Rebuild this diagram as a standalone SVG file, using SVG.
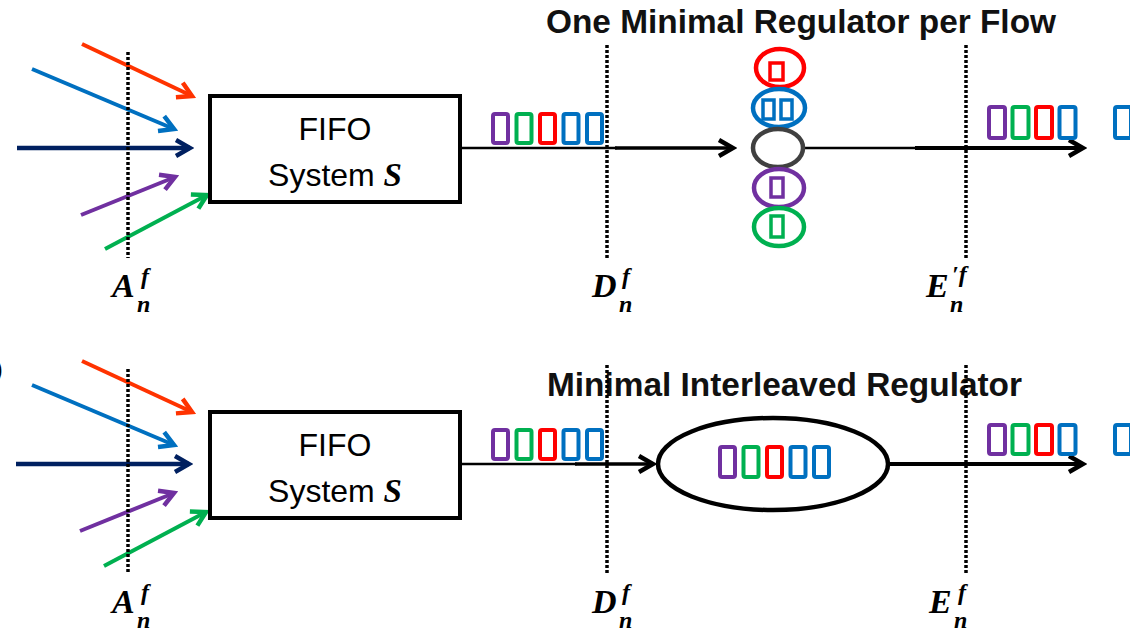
<svg xmlns="http://www.w3.org/2000/svg" width="1130" height="631" viewBox="0 0 1130 631">
<style>
.title{font-family:"Liberation Sans",Arial,sans-serif;font-size:33px;font-weight:bold;fill:#111}
.boxt{font-family:"Liberation Sans",Arial,sans-serif;font-size:32px;fill:#000;text-anchor:middle}
.mi{font-family:"Liberation Serif","Times New Roman",serif;font-style:italic;font-weight:bold;fill:#000}
.big{font-size:34px}
.sm{font-size:24px}
.dot{stroke:#000;stroke-width:3.5;stroke-dasharray:3 2;fill:none}
.box{fill:#fff;stroke:#000;stroke-width:4}
.pk{fill:none;stroke-width:4;rx:2}
.pu{stroke:#7030A0}.gr{stroke:#00B050}.rd{stroke:#FF0000}.bl{stroke:#0070C0}
.sp{fill:none;stroke-width:3.5}
.reg{fill:none;stroke-width:4.5}
.ln{fill:none;stroke-linecap:butt}
</style>
<defs>
<marker id="ah-or" viewBox="-18 -11 22 22" markerWidth="22" markerHeight="22" refX="0" refY="0" orient="auto" markerUnits="userSpaceOnUse"><path d="M-14,-8 L0,0 L-14,8" fill="none" stroke="#FF3300" stroke-width="4.5"/></marker>
<marker id="ah-bl" viewBox="-18 -11 22 22" markerWidth="22" markerHeight="22" refX="0" refY="0" orient="auto" markerUnits="userSpaceOnUse"><path d="M-14,-8 L0,0 L-14,8" fill="none" stroke="#0070C0" stroke-width="4.5"/></marker>
<marker id="ah-nv" viewBox="-18 -11 22 22" markerWidth="22" markerHeight="22" refX="0" refY="0" orient="auto" markerUnits="userSpaceOnUse"><path d="M-14,-8 L0,0 L-14,8" fill="none" stroke="#002060" stroke-width="4.5"/></marker>
<marker id="ah-pu" viewBox="-18 -11 22 22" markerWidth="22" markerHeight="22" refX="0" refY="0" orient="auto" markerUnits="userSpaceOnUse"><path d="M-14,-8 L0,0 L-14,8" fill="none" stroke="#7030A0" stroke-width="4.5"/></marker>
<marker id="ah-gr" viewBox="-18 -11 22 22" markerWidth="22" markerHeight="22" refX="0" refY="0" orient="auto" markerUnits="userSpaceOnUse"><path d="M-14,-8 L0,0 L-14,8" fill="none" stroke="#00B050" stroke-width="4.5"/></marker>
<marker id="ah-k" viewBox="-18 -11 22 22" markerWidth="22" markerHeight="22" refX="0" refY="0" orient="auto" markerUnits="userSpaceOnUse"><path d="M-14,-8 L0,0 L-14,8" fill="none" stroke="#000" stroke-width="4.5"/></marker>
</defs>
<rect width="1130" height="631" fill="#fff"/>

<!-- titles -->
<text id="title-top" class="title" x="546" y="33" textLength="510" lengthAdjust="spacingAndGlyphs">One Minimal Regulator per Flow</text>
<text id="title-bottom" class="title" x="547" y="396" textLength="475" lengthAdjust="spacingAndGlyphs">Minimal Interleaved Regulator</text>
<text id="panel-b" x="3" y="378" font-family="Liberation Sans,Arial,sans-serif" font-size="26" text-anchor="end" fill="#000">b)</text>

<!-- connectors -->
<g id="connectors">
  <!-- top panel inputs -->
  <line class="ln" x1="82" y1="44" x2="192" y2="96" stroke="#FF3300" stroke-width="4" marker-end="url(#ah-or)"/>
  <line class="ln" x1="32" y1="69" x2="174" y2="129" stroke="#0070C0" stroke-width="4" marker-end="url(#ah-bl)"/>
  <line class="ln" x1="17" y1="148" x2="190" y2="148" stroke="#002060" stroke-width="4.5" marker-end="url(#ah-nv)"/>
  <line class="ln" x1="81" y1="215" x2="175" y2="177" stroke="#7030A0" stroke-width="4" marker-end="url(#ah-pu)"/>
  <line class="ln" x1="105" y1="249" x2="207" y2="195" stroke="#00B050" stroke-width="4" marker-end="url(#ah-gr)"/>
  <!-- top panel main line -->
  <line class="ln" x1="460" y1="148" x2="617" y2="148" stroke="#000" stroke-width="2.5"/>
  <line class="ln" x1="615" y1="148" x2="733" y2="148" stroke="#000" stroke-width="3.5" marker-end="url(#ah-k)"/>
  <line class="ln" x1="803" y1="148" x2="917" y2="148" stroke="#000" stroke-width="2.5"/>
  <line class="ln" x1="915" y1="148" x2="1083" y2="148" stroke="#000" stroke-width="4" marker-end="url(#ah-k)"/>

  <!-- bottom panel inputs -->
  <line class="ln" x1="82" y1="361" x2="192" y2="412" stroke="#FF3300" stroke-width="4" marker-end="url(#ah-or)"/>
  <line class="ln" x1="32" y1="385" x2="174" y2="445" stroke="#0070C0" stroke-width="4" marker-end="url(#ah-bl)"/>
  <line class="ln" x1="16" y1="464" x2="189" y2="464" stroke="#002060" stroke-width="4.5" marker-end="url(#ah-nv)"/>
  <line class="ln" x1="80" y1="531" x2="174" y2="493" stroke="#7030A0" stroke-width="4" marker-end="url(#ah-pu)"/>
  <line class="ln" x1="104" y1="566" x2="206" y2="512" stroke="#00B050" stroke-width="4" marker-end="url(#ah-gr)"/>
  <!-- bottom panel main line -->
  <line class="ln" x1="460" y1="464" x2="577" y2="464" stroke="#000" stroke-width="2.5"/>
  <line class="ln" x1="575" y1="464" x2="653" y2="464" stroke="#000" stroke-width="3.5" marker-end="url(#ah-k)"/>
  <line class="ln" x1="890" y1="464" x2="1083" y2="464" stroke="#000" stroke-width="4" marker-end="url(#ah-k)"/>
</g>

<!-- top panel nodes -->
<g id="fifo-top">
  <rect class="box" x="210" y="96" width="250" height="106"/>
  <text class="boxt" x="335" y="140">FIFO</text>
  <text class="boxt" x="335" y="186">System <tspan class="mi" font-weight="normal" font-size="33">S</tspan></text>
</g>
<g id="packets-top-mid">
  <rect class="pk pu" x="493" y="114" width="15" height="29"/>
  <rect class="pk gr" x="516.5" y="114" width="15" height="29"/>
  <rect class="pk rd" x="540" y="114" width="15" height="29"/>
  <rect class="pk bl" x="563.5" y="114" width="15" height="29"/>
  <rect class="pk bl" x="587" y="114" width="15" height="29"/>
</g>
<g id="regulators-top">
  <ellipse class="reg" cx="780" cy="68" rx="24" ry="19" stroke="#FF0000"/>
  <rect class="sp" x="770" y="63" width="13" height="17" stroke="#FF0000"/>
  <ellipse class="reg" cx="779" cy="108" rx="26" ry="19" stroke="#0070C0"/>
  <rect class="sp" x="763" y="100" width="11" height="19" stroke="#0070C0"/>
  <rect class="sp" x="781" y="100" width="11" height="19" stroke="#0070C0"/>
  <ellipse class="reg" cx="778" cy="148" rx="25" ry="19" stroke="#404040"/>
  <ellipse class="reg" cx="779" cy="188" rx="25" ry="19" stroke="#7030A0"/>
  <rect class="sp" x="771" y="178" width="12" height="19" stroke="#7030A0"/>
  <ellipse class="reg" cx="779" cy="227" rx="25" ry="19" stroke="#00B050"/>
  <rect class="sp" x="771" y="216" width="12" height="21" stroke="#00B050"/>
</g>
<g id="packets-top-right">
  <rect class="pk pu" x="989" y="107" width="16" height="31"/>
  <rect class="pk gr" x="1012.5" y="107" width="16" height="31"/>
  <rect class="pk rd" x="1036" y="107" width="16" height="31"/>
  <rect class="pk bl" x="1059.5" y="107" width="16" height="31"/>
  <rect class="pk bl" x="1115" y="107" width="16" height="31"/>
</g>

<!-- bottom panel nodes -->
<g id="fifo-bottom">
  <rect class="box" x="210" y="412" width="250" height="106"/>
  <text class="boxt" x="335" y="456">FIFO</text>
  <text class="boxt" x="335" y="502">System <tspan class="mi" font-weight="normal" font-size="33">S</tspan></text>
</g>
<g id="packets-bottom-mid">
  <rect class="pk pu" x="493" y="430" width="15" height="29"/>
  <rect class="pk gr" x="516.5" y="430" width="15" height="29"/>
  <rect class="pk rd" x="540" y="430" width="15" height="29"/>
  <rect class="pk bl" x="563.5" y="430" width="15" height="29"/>
  <rect class="pk bl" x="587" y="430" width="15" height="29"/>
</g>
<g id="regulator-interleaved">
  <ellipse cx="773" cy="464" rx="115" ry="46" fill="none" stroke="#000" stroke-width="4.5"/>
  <rect class="pk pu" x="720" y="447" width="15" height="30"/>
  <rect class="pk gr" x="743.5" y="447" width="15" height="30"/>
  <rect class="pk rd" x="767" y="447" width="15" height="30"/>
  <rect class="pk bl" x="790.5" y="447" width="15" height="30"/>
  <rect class="pk bl" x="814" y="447" width="15" height="30"/>
</g>
<g id="packets-bottom-right">
  <rect class="pk pu" x="989" y="425" width="16" height="29"/>
  <rect class="pk gr" x="1012.5" y="425" width="16" height="29"/>
  <rect class="pk rd" x="1036" y="425" width="16" height="29"/>
  <rect class="pk bl" x="1059.5" y="425" width="16" height="29"/>
  <rect class="pk bl" x="1115" y="425" width="16" height="29"/>
</g>

<!-- observation points -->
<g id="obs-A-top">
  <line class="dot" x1="128" y1="52" x2="128" y2="258"/>
  <text class="mi"><tspan class="big" x="112" y="297">A</tspan><tspan class="sm" x="141" y="284">f</tspan><tspan class="sm" x="137" y="312">n</tspan></text>
</g>
<g id="obs-D-top">
  <line class="dot" x1="607" y1="45" x2="607" y2="258"/>
  <text class="mi"><tspan class="big" x="592" y="297">D</tspan><tspan class="sm" x="622" y="284">f</tspan><tspan class="sm" x="619" y="312">n</tspan></text>
</g>
<g id="obs-E-top">
  <line class="dot" x1="966" y1="45" x2="966" y2="258"/>
  <text class="mi"><tspan class="big" x="926" y="297">E</tspan><tspan class="sm" x="952" y="282">′f</tspan><tspan class="sm" x="950" y="312">n</tspan></text>
</g>
<g id="obs-A-bottom">
  <line class="dot" x1="128" y1="369" x2="128" y2="573"/>
  <text class="mi"><tspan class="big" x="112" y="613">A</tspan><tspan class="sm" x="141" y="600">f</tspan><tspan class="sm" x="137" y="628">n</tspan></text>
</g>
<g id="obs-D-bottom">
  <line class="dot" x1="607" y1="365" x2="607" y2="575"/>
  <text class="mi"><tspan class="big" x="592" y="613">D</tspan><tspan class="sm" x="622" y="600">f</tspan><tspan class="sm" x="619" y="628">n</tspan></text>
</g>
<g id="obs-E-bottom">
  <line class="dot" x1="966" y1="365" x2="966" y2="575"/>
  <text class="mi"><tspan class="big" x="929" y="613">E</tspan><tspan class="sm" x="958" y="600">f</tspan><tspan class="sm" x="954" y="628">n</tspan></text>
</g>
</svg>
